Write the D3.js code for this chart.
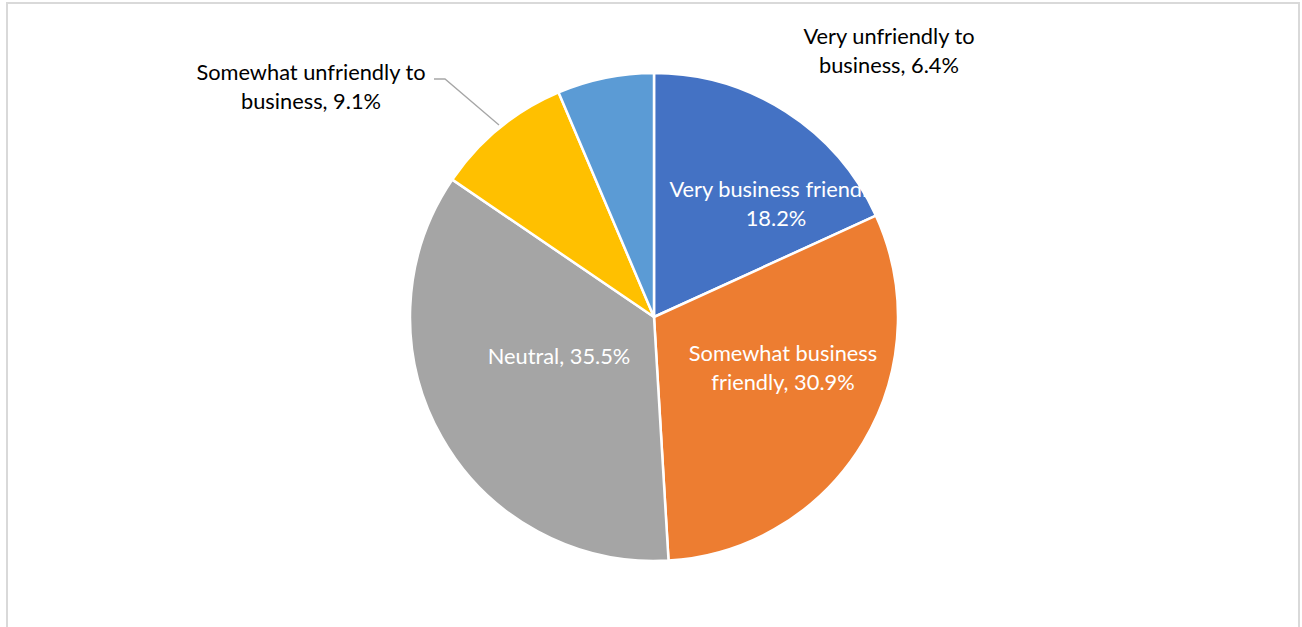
<!DOCTYPE html>
<html>
<head>
<meta charset="utf-8">
<script src="https://cdn.jsdelivr.net/npm/d3@7"></script>
<style>
  html, body { margin: 0; padding: 0; background: #fff; }
  svg { display: block; }
</style>
</head>
<body>
<svg id="chart" width="1302" height="627"></svg>
<script>
// Survey shares: how business-friendly the climate is perceived to be
const categories = [
  "Very business friendly",
  "Somewhat business friendly",
  "Neutral",
  "Somewhat unfriendly to business",
  "Very unfriendly to business"
];
const shares = [18.2, 30.9, 35.5, 9.1, 6.4];
const sliceColors = ["#4472C4", "#ED7D31", "#A5A5A5", "#FFC000", "#5B9BD5"];

// Label text lines per slice
const labelLines = [
  ["Very business friendly,", "18.2%"],
  ["Somewhat business", "friendly, 30.9%"],
  ["Neutral, 35.5%"],
  ["Somewhat unfriendly to", "business, 9.1%"],
  ["Very unfriendly to", "business, 6.4%"]
];

const W = 1302, H = 627;
const cx = 654, cy = 317, R = 244;

const svg = d3.select("#chart");

// Chart area frame
svg.append("rect")
  .attr("x", 7).attr("y", 3)
  .attr("width", 1292).attr("height", 640)
  .attr("fill", "#fff")
  .attr("stroke", "#d9d9d9")
  .attr("stroke-width", 2);

const data = categories.map((c, i) => ({ name: c, value: shares[i], color: sliceColors[i], lines: labelLines[i] }));

const pie = d3.pie().sort(null).value(d => d.value);
const arcs = pie(data);
const arc = d3.arc().innerRadius(0).outerRadius(R);

const g = svg.append("g").attr("transform", `translate(${cx},${cy})`);

g.selectAll("path.slice")
  .data(arcs)
  .join("path")
  .attr("class", "slice")
  .attr("d", arc)
  .attr("fill", d => d.data.color)
  .attr("stroke", "#fff")
  .attr("stroke-width", 2.5)
  .attr("stroke-linejoin", "round");

// Label placement (centre of text block, relative to pie centre) and colour
const labelPos = [
  { x: 122, y: -113, fill: "#fff" },
  { x: 129, y: 51, fill: "#fff" },
  { x: -95, y: 39, fill: "#fff" },
  { x: -343, y: -230, fill: "#000" },
  { x: 235, y: -266, fill: "#000" }
];

const lineH = 29;
const fontFamily = "Lato, 'Open Sans', sans-serif";

arcs.forEach((a, i) => {
  const p = labelPos[i];
  const lines = a.data.lines;
  const t = g.append("text")
    .attr("text-anchor", "middle")
    .attr("font-family", fontFamily)
    .attr("font-size", 21.8)
    .attr("fill", p.fill);
  lines.forEach((ln, k) => {
    t.append("tspan")
      .attr("x", p.x)
      .attr("y", p.y + (k - (lines.length - 1) / 2) * lineH)
      .attr("dy", "0.35em")
      .text(ln);
  });
});

// Leader line from the small yellow slice to its label
g.append("path")
  .attr("d", d3.line()([[-155, -192], [445 - cx, 79 - cy], [434 - cx, 79 - cy]]))
  .attr("fill", "none")
  .attr("stroke", "#a6a6a6")
  .attr("stroke-width", 1.3);
</script>
</body>
</html>
